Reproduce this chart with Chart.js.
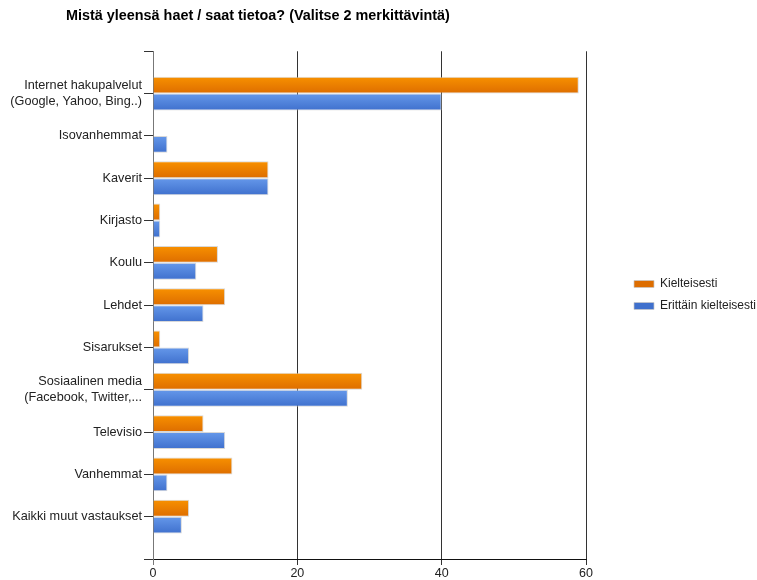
<!DOCTYPE html>
<html>
<head>
<meta charset="utf-8">
<script src="https://cdn.jsdelivr.net/npm/chart.js@4.4.0/dist/chart.umd.min.js"></script>
<style>
  html, body { margin: 0; padding: 0; background: #fff; }
  #wrap { width: 757px; height: 580px; }
</style>
</head>
<body>
<div id="wrap"><canvas id="my-chart" width="757" height="580"></canvas></div>
<script>
const chartTitle = 'Mistä yleensä haet / saat tietoa? (Valitse 2 merkittävintä)';
const categories = [
  ['Internet hakupalvelut', '(Google, Yahoo, Bing..)'],
  'Isovanhemmat',
  'Kaverit',
  'Kirjasto',
  'Koulu',
  'Lehdet',
  'Sisarukset',
  ['Sosiaalinen media', '(Facebook, Twitter,...'],
  'Televisio',
  'Vanhemmat',
  'Kaikki muut vastaukset'
];
const seriesNames = ['Kielteisesti', 'Erittäin kielteisesti'];
const kielteisesti = [59, 0, 16, 1, 9, 10, 1, 29, 7, 11, 5];
const erittainKielteisesti = [40, 2, 16, 1, 6, 7, 5, 27, 10, 2, 4];
const xTicks = [0, 20, 40, 60];

const FONT = "'Liberation Sans', Arial, sans-serif";
const CAT_PCT = 0.8;

// bars sit on a linear index axis so the empty space above/below the groups matches
const toPoints = values => values.map((v, i) => ({ x: v, y: i }));

// light-to-dark vertical shading on each bar, solid colour for the legend
function barFill(light, dark, solid) {
  return c => {
    const y = c.chart.scales && c.chart.scales.y;
    if (c.type !== 'data' || !y || !isFinite(y.getPixelForValue(0))) return solid;
    const band = Math.abs(y.getPixelForValue(1) - y.getPixelForValue(0));
    const chunk = band * CAT_PCT / c.chart.data.datasets.length;
    const top = y.getPixelForValue(c.dataIndex) - band * CAT_PCT / 2 + chunk * c.datasetIndex;
    const g = c.chart.ctx.createLinearGradient(0, top, 0, top + chunk);
    g.addColorStop(0, light);
    g.addColorStop(1, dark);
    return g;
  };
}

// wider legend box, items pushed right, title moved left
const boxShift = {
  id: 'boxShift',
  beforeInit(chart) {
    const legend = chart.legend;
    const fit = legend.fit;
    legend.fit = function () {
      fit.call(this);
      this.width = 171;
    };
  },
  afterLayout(chart) {
    chart.legend.left = 624;
    chart.legend.top += 5;
    chart.legend.bottom += 5;
    chart.titleBlock.left = 66;
  }
};

const ctx = document.getElementById('my-chart').getContext('2d');
const chart = new Chart(ctx, {
  type: 'bar',
  data: {
    datasets: [
      {
        label: seriesNames[0],
        data: toPoints(kielteisesti),
        backgroundColor: barFill('#f89100', '#dd6d00', '#ef8200'),
        borderColor: 'rgba(200,200,200,0.7)',
        borderWidth: 1
      },
      {
        label: seriesNames[1],
        data: toPoints(erittainKielteisesti),
        backgroundColor: barFill('#6598ea', '#3f70cd', '#5284df'),
        borderColor: 'rgba(200,200,200,0.7)',
        borderWidth: 1
      }
    ]
  },
  options: {
    indexAxis: 'y',
    responsive: false,
    animation: false,
    categoryPercentage: CAT_PCT,
    barPercentage: 1.0,
    layout: { padding: 0 },
    scales: {
      x: {
        type: 'linear',
        min: xTicks[0],
        max: xTicks[xTicks.length - 1],
        afterBuildTicks: axis => { axis.ticks = xTicks.map(v => ({ value: v })); },
        afterFit: axis => { axis.height = 21; },
        grid: {
          color: c => (c.tick && c.tick.value === 0 ? '#777' : '#333'),
          tickLength: 6
        },
        border: { color: '#111' },
        ticks: {
          padding: 1,
          color: '#222',
          font: { family: FONT, size: 12.5 }
        }
      },
      y: {
        type: 'linear',
        reverse: true,
        offset: false,
        min: -1,
        max: categories.length,
        afterFit: axis => { axis.width = 153; },
        grid: {
          offset: false,
          drawOnChartArea: false,
          tickLength: 9,
          color: '#333'
        },
        border: { color: '#777' },
        ticks: {
          stepSize: 1,
          autoSkip: false,
          padding: 2,
          color: '#222',
          font: { family: FONT, size: 12.7, lineHeight: 1.25 },
          callback: v => (categories[v] !== undefined ? categories[v] : '')
        }
      }
    },
    plugins: {
      title: {
        display: true,
        text: chartTitle,
        align: 'start',
        color: '#000',
        font: { family: FONT, size: 14.4, weight: 'bold' },
        padding: { top: 7, bottom: 27 }
      },
      legend: {
        position: 'right',
        labels: {
          boxWidth: 20,
          boxHeight: 7,
          padding: 10,
          color: '#222',
          font: { family: FONT, size: 12 }
        }
      },
      tooltip: { enabled: false }
    }
  },
  plugins: [boxShift]
});
</script>
</body>
</html>
